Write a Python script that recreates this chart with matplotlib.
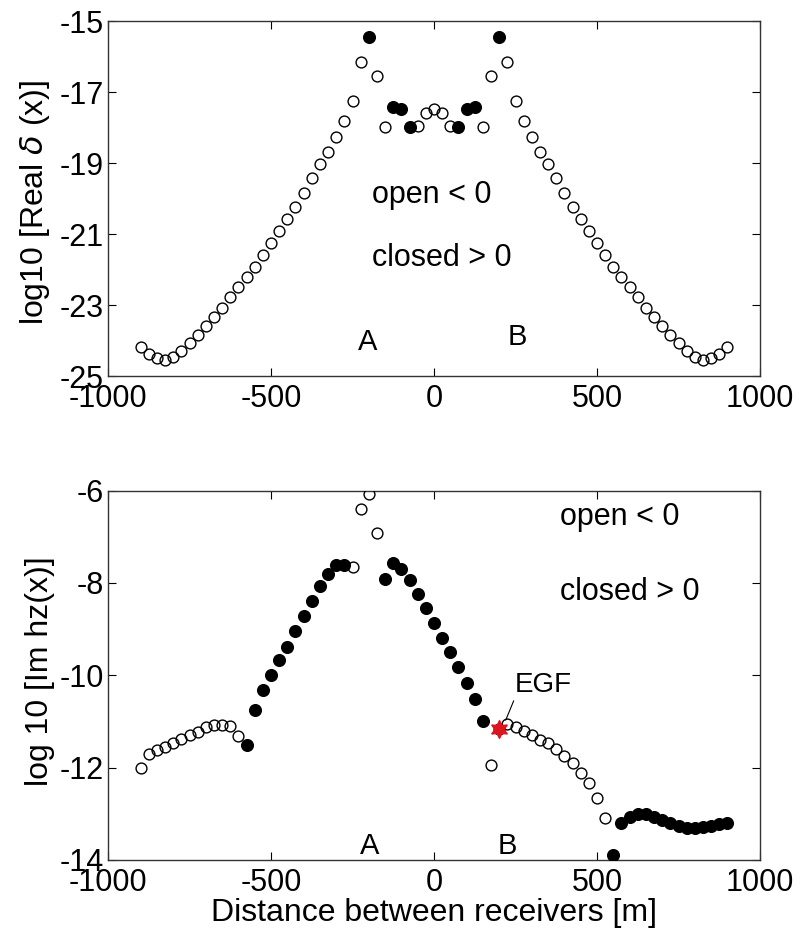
import matplotlib
matplotlib.use("Agg")
import matplotlib.pyplot as plt
import numpy as np

plt.rcParams['font.family'] = ['Liberation Sans', 'DejaVu Sans']
plt.rcParams['axes.unicode_minus'] = False

# Receiver separation grid [m]
distance = [-900, -875, -850, -825, -800, -775, -750, -725, -700, -675, -650, -625,
            -600, -575, -550, -525, -500, -475, -450, -425, -400, -375, -350, -325,
            -300, -275, -250, -225, -200, -175, -150, -125, -100, -75, -50, -25,
            0, 25, 50, 75, 100, 125, 150, 175, 200, 225, 250, 275,
            300, 325, 350, 375, 400, 425, 450, 475, 500, 525, 550, 575,
            600, 625, 650, 675, 700, 725, 750, 775, 800, 825, 850, 875, 900]

# log10 |Re delta(x)| and its sign (+1 closed, -1 open)
real_log = [-24.17, -24.38, -24.50, -24.55, -24.47, -24.30, -24.08, -23.85, -23.59,
            -23.35, -23.09, -22.78, -22.50, -22.22, -21.92, -21.59, -21.26, -20.92,
            -20.58, -20.23, -19.85, -19.43, -19.04, -18.68, -18.26, -17.81, -17.24,
            -16.16, -15.44, -16.55, -17.99, -17.43, -17.49, -17.98, -17.96, -17.58,
            -17.49,
            -17.58, -17.96, -17.98, -17.49, -17.43, -17.99, -16.55, -15.44, -16.16,
            -17.24, -17.81, -18.26, -18.68, -19.04, -19.43, -19.85, -20.23, -20.58,
            -20.92, -21.26, -21.59, -21.92, -22.22, -22.50, -22.78, -23.09, -23.35,
            -23.59, -23.85, -24.08, -24.30, -24.47, -24.55, -24.50, -24.38, -24.17]
real_sign = [-1] * 28 + [1, -1, -1, 1, 1, 1] + [-1] * 5 + [1, 1, 1, -1, -1, 1] + [-1] * 28

# log10 |Im hz(x)| and its sign
imag_log = [-12.00, -11.70, -11.62, -11.55, -11.46, -11.39, -11.29, -11.22, -11.13,
            -11.08, -11.08, -11.09, -11.31,
            -11.51, -10.75, -10.32, -10.00, -9.67, -9.38, -9.03, -8.71, -8.38,
            -8.06, -7.80, -7.61, -7.61,
            -7.66, -6.40, -6.07, -6.91,
            -7.91, -7.57, -7.69, -7.93, -8.24, -8.55, -8.87, -9.19, -9.50,
            -9.83, -10.16, -10.52, -11.00,
            -11.95, -11.17,
            -11.06, -11.13, -11.20, -11.29, -11.40, -11.47, -11.60, -11.75, -11.91,
            -12.12, -12.34, -12.65, -13.10,
            -13.89, -13.20, -13.06, -13.00, -13.00, -13.06, -13.13, -13.20, -13.26,
            -13.30, -13.31, -13.29, -13.26, -13.22, -13.19]
imag_sign = ([-1] * 13 + [1] * 13 + [-1] * 4 + [1] * 13 + [-1] * 2 +
             [-1] * 13 + [1] * 15)

egf_distance = 200

x_ticks = [-1000, -500, 0, 500, 1000]
real_ticks = [-25, -23, -21, -19, -17, -15]
imag_ticks = [-14, -12, -10, -8, -6]

x = np.array(distance)
fig = plt.figure(figsize=(8.0, 9.38), dpi=100)
ax1 = fig.add_axes([0.135, 0.5991, 0.815, 0.3785])
ax2 = fig.add_axes([0.135, 0.0832, 0.815, 0.3937])

TICK_FS = 22
TEXT_FS = 22
LABEL_FS = 23
MS = 7.8


def scatter_signed(ax, vals, signs):
    v = np.array(vals)
    s = np.array(signs)
    ax.plot(x[s > 0], v[s > 0], 'o', ms=MS + 0.6, mfc='black', mec='black',
            mew=1.0, ls='none', zorder=3)
    ax.plot(x[s < 0], v[s < 0], 'o', ms=MS, mfc='none', mec='black',
            mew=1.0, ls='none', zorder=4)


def style(ax, yticks):
    ax.set_xlim(-1000, 1000)
    ax.set_ylim(yticks[0], yticks[-1])
    ax.set_xticks(x_ticks)
    ax.set_yticks(yticks)
    ax.tick_params(direction='in', length=6, width=0.8, top=True, right=True,
                   labelsize=TICK_FS)
    ax.tick_params(axis='x', pad=6)
    ax.tick_params(axis='y', pad=3)
    for sp in ax.spines.values():
        sp.set_linewidth(1.0)
        sp.set_color('#333333')


# Upper panel: real part
scatter_signed(ax1, real_log, real_sign)
style(ax1, real_ticks)
ax1.set_ylabel(r'log10 [Real $\delta$ (x)]', fontsize=LABEL_FS)
ax1.yaxis.set_label_coords(-0.086, 0.49)
ax1.text(-190, -19.9, 'open < 0', fontsize=TEXT_FS, va='center', ha='left')
ax1.text(-190, -21.68, 'closed > 0', fontsize=TEXT_FS, va='center', ha='left')
ax1.text(-205, -24.04, 'A', fontsize=21, va='center', ha='center')
ax1.text(255, -23.9, 'B', fontsize=21, va='center', ha='center')

# Lower panel: imaginary part
scatter_signed(ax2, imag_log, imag_sign)
style(ax2, imag_ticks)
egf_val = imag_log[distance.index(egf_distance)]
ax2.plot([egf_distance], [egf_val], marker=(6, 1, 0), ms=13, color='#e0141e',
         mec='#e0141e', ls='none', zorder=5)
ax2.annotate('EGF', xy=(egf_distance + 20, egf_val + 0.2), xytext=(248, -10.21),
             fontsize=20, va='center', ha='left',
             arrowprops=dict(arrowstyle='-', color='black', lw=0.8,
                             shrinkA=0, shrinkB=0, relpos=(0.0, 0.0)))
ax2.text(386, -6.56, 'open < 0', fontsize=TEXT_FS, va='center', ha='left')
ax2.text(386, -8.19, 'closed > 0', fontsize=TEXT_FS, va='center', ha='left')
ax2.text(-196, -13.70, 'A', fontsize=21, va='center', ha='center')
ax2.text(224, -13.70, 'B', fontsize=21, va='center', ha='center')
ax2.set_ylabel('log 10 [Im hz(x)]', fontsize=LABEL_FS)
ax2.yaxis.set_label_coords(-0.081, 0.51)
ax2.set_xlabel('Distance between receivers [m]', fontsize=LABEL_FS, labelpad=0)

fig.savefig('out.png', dpi=100)
